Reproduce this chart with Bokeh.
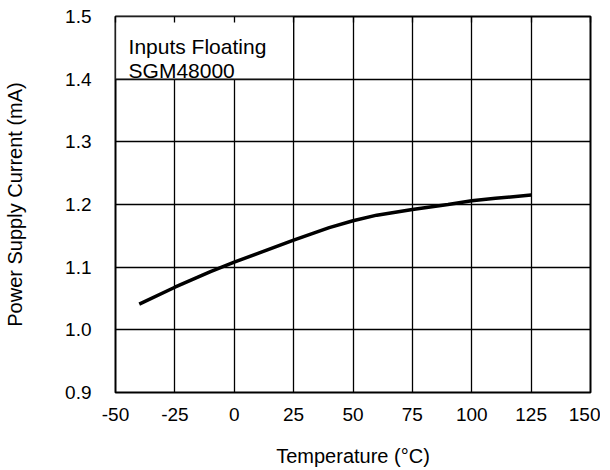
from bokeh.plotting import figure
from bokeh.models import LinearAxis, FixedTicker, Label, Range1d
from bokeh.embed import file_html
from bokeh.resources import INLINE

# Data
temperature = [-40, -25, -10, 0, 10, 25, 40, 50, 60, 75, 90, 100, 110, 125]
supply_current = [1.041, 1.068, 1.093, 1.108, 1.122, 1.143, 1.163, 1.174, 1.183, 1.192, 1.200, 1.206, 1.210, 1.215]

x_ticks = [-50, -25, 0, 25, 50, 75, 100, 125, 150]
x_tick_labels = {-50: "-50", -25: "-25", 0: "0", 25: "25", 50: "50", 75: "75", 100: "100", 125: "125", 150: "150"}
y_ticks = [0.9, 1.0, 1.1, 1.2, 1.3, 1.4, 1.5]
y_tick_labels = {0.9: "0.9", 1.0: "1.0", 1.1: "1.1", 1.2: "1.2", 1.3: "1.3", 1.4: "1.4", 1.5: "1.5"}

note_lines = ["Inputs Floating", "SGM48000"]

FONT = "Liberation Sans"

p = figure(
    frame_width=475, frame_height=376,
    x_range=Range1d(-50, 150), y_range=Range1d(0.9, 1.5),
    output_backend="svg", toolbar_location=None,
    min_border_left=115, min_border_right=10, min_border_top=16, min_border_bottom=10,
    x_axis_label="Temperature (°C)", y_axis_label="Power Supply Current (mA)",
)

p.outline_line_color = "black"
p.outline_line_width = 2
p.background_fill_color = "white"
p.border_fill_color = "white"

# grids
p.xgrid.ticker = FixedTicker(ticks=x_ticks)
p.ygrid.ticker = FixedTicker(ticks=y_ticks)
for g in (p.xgrid, p.ygrid):
    g.grid_line_color = "black"
    g.grid_line_width = 1.3
    g.grid_line_alpha = 1.0

# axes
xa = p.xaxis[0]
ya = p.yaxis[0]
xa.ticker = FixedTicker(ticks=x_ticks)
ya.ticker = FixedTicker(ticks=y_ticks)
xa.major_label_overrides = x_tick_labels
ya.major_label_overrides = y_tick_labels
for ax in (xa, ya):
    ax.axis_line_color = None
    ax.major_tick_out = 0
    ax.major_tick_in = 0
    ax.minor_tick_out = 0
    ax.minor_tick_in = 0
    ax.major_label_text_font = FONT
    ax.major_label_text_font_size = "19px"
    ax.major_label_text_color = "black"
    ax.axis_label_text_font = FONT
    ax.axis_label_text_font_size = "20px"
    ax.axis_label_text_font_style = "normal"
    ax.axis_label_text_color = "black"
xa.major_label_standoff = 15
xa.axis_label_standoff = 21
ya.major_label_standoff = 24
ya.axis_label_standoff = 36

# note box (white box covering grid in top-left cell area)
p.quad(left=[-50], right=[25], bottom=[1.4], top=[1.5],
       fill_color="white", line_color="black", line_width=1.3)

# top axis with inward ticks
top = LinearAxis(ticker=FixedTicker(ticks=x_ticks))
top.axis_line_color = None
top.major_tick_in = 6
top.major_tick_out = 0
top.major_tick_line_width = 1.3
top.minor_tick_in = 0
top.minor_tick_out = 0
top.major_label_text_font_size = "0px"
top.major_label_text_color = None
top.major_label_standoff = 0
p.add_layout(top, "above")

# data curve
p.line(temperature, supply_current, line_color="black", line_width=3.5)

# note text
p.add_layout(Label(x=-44.5, y=1.452, text=note_lines[0], text_font=FONT,
                   text_font_size="21px", text_baseline="alphabetic", text_color="black"))
p.add_layout(Label(x=-44.5, y=1.4138, text=note_lines[1], text_font=FONT,
                   text_font_size="21px", text_baseline="alphabetic", text_color="black"))

open("out.html", "w").write(file_html(p, INLINE))
